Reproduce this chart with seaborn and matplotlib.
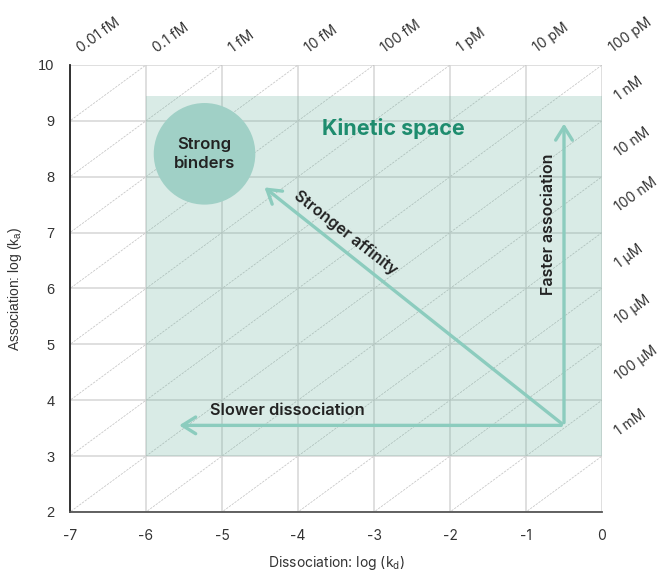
import numpy as np
import seaborn as sns
import matplotlib.pyplot as plt
from matplotlib.patches import Rectangle

# axes ranges (log units)
x_ticks = [-7, -6, -5, -4, -3, -2, -1, 0]
y_ticks = [2, 3, 4, 5, 6, 7, 8, 9, 10]

# iso-affinity labels (KD = kd / ka)
top_kd_labels = ['0.01 fM', '0.1 fM', '1 fM', '10 fM', '100 fM', '1 pM', '10 pM', '100 pM']
right_kd_labels = ['1 nM', '10 nM', '100 nM', '1 µM', '10 µM', '100 µM', '1 mM']
right_kd_y = [9, 8, 7, 6, 5, 4, 3]

# kinetic space region
space_x = [-6, 0]
space_y = [3, 9.44]

# arrows (start -> end)
arrow_origin = (-0.5, 3.55)
arrow_up = (-0.5, 9.0)
arrow_left = (-5.6, 3.55)
arrow_diag = (-4.47, 7.84)

binders_center = (-5.23, 8.41)

teal = '#8CCCBE'
sns.set_theme(style='white')
plt.rcParams['font.family'] = ['Inter', 'DejaVu Sans']

fig = plt.figure(figsize=(6.68, 5.73), dpi=100)
ax = fig.add_axes([0.1048, 0.1065, 0.7964, 0.7801])
ax.set_xlim(-7, 0)
ax.set_ylim(2, 10)

# grid
for x in x_ticks:
    ax.axvline(x, color='#d6d6d6', lw=1.1, zorder=1)
for y in y_ticks:
    ax.axhline(y, color='#d6d6d6', lw=1.1, zorder=1)

# diagonal dashed iso-affinity lines y = x + c
xx = np.array([-8.0, 1.0])
for c in range(2, 18):
    ax.plot(xx, xx + c, color='#c4c4c4', lw=0.55, ls=(0, (3, 1.5)), zorder=1)

ax.add_patch(Rectangle((space_x[0], space_y[0]), space_x[1] - space_x[0], space_y[1] - space_y[0],
                       facecolor='#6BB39F', alpha=0.25, edgecolor='none', zorder=2))

# strong binders bubble
ax.scatter([binders_center[0]], [binders_center[1]], s=5350, color='#A0D0C6', edgecolor='none', zorder=3)
ax.text(binders_center[0], binders_center[1], 'Strong\nbinders', ha='center', va='center',
        fontsize=12, fontweight='semibold', color='#222222', linespacing=1.3, zorder=4)

ax.text(-2.74, 8.86, 'Kinetic space', ha='center', va='center', fontsize=15.5,
        fontweight='bold', color='#1E8C6E', zorder=4)

akw = dict(arrowstyle='->,head_length=0.8,head_width=0.5', color=teal, lw=2.4)
for end in [arrow_up, arrow_left, arrow_diag]:
    ax.annotate('', xy=end, xytext=arrow_origin, arrowprops=akw, zorder=4)

ax.text(-4.14, 3.82, 'Slower dissociation', ha='center', va='center', fontsize=11.8,
        fontweight='semibold', color='#222222', zorder=4)
ax.text(-0.71, 7.15, 'Faster association', ha='center', va='center', fontsize=11.5,
        rotation=90, fontweight='semibold', color='#222222', zorder=4)
ax.text(-3.38, 7.0, 'Stronger affinity', ha='center', va='center', fontsize=11.5,
        rotation=-38, fontweight='semibold', color='#222222', zorder=4)

# KD labels along the diagonals
for x, lab in zip(x_ticks, top_kd_labels):
    ax.text(x + 0.15, 10.22, lab, rotation=36, rotation_mode='anchor', ha='left', va='baseline',
            fontsize=10, color='#333333', clip_on=False)
for y, lab in zip(right_kd_y, right_kd_labels):
    ax.text(0.23, y + 0.36, lab, rotation=36, rotation_mode='anchor', ha='left', va='baseline',
            fontsize=10, color='#333333', clip_on=False)

# spines and ticks
for s in ['top', 'right']:
    ax.spines[s].set_visible(False)
ax.spines['left'].set_color('#222222')
ax.spines['left'].set_linewidth(1.3)
ax.spines['bottom'].set_color('#555555')
ax.spines['bottom'].set_linewidth(1.3)
ax.set_xticks(x_ticks)
ax.set_yticks(y_ticks)
ax.set_xticklabels([str(v) for v in x_ticks])
ax.set_yticklabels([str(v) for v in y_ticks], fontfamily='Liberation Sans')
ax.tick_params(axis='x', length=0, pad=12, labelsize=10, labelcolor='#333333')
ax.tick_params(axis='y', length=0, pad=11, labelsize=10.5, labelcolor='#333333')
ax.set_xlabel(r'Dissociation: log (k$_\mathregular{d}$)', fontsize=10, color='#333333', labelpad=8)
ax.set_ylabel(r'Association: log (k$_\mathregular{a}$)', fontsize=10, color='#333333', labelpad=10,
              fontfamily='Liberation Sans')

fig.savefig('out.png', dpi=100)
